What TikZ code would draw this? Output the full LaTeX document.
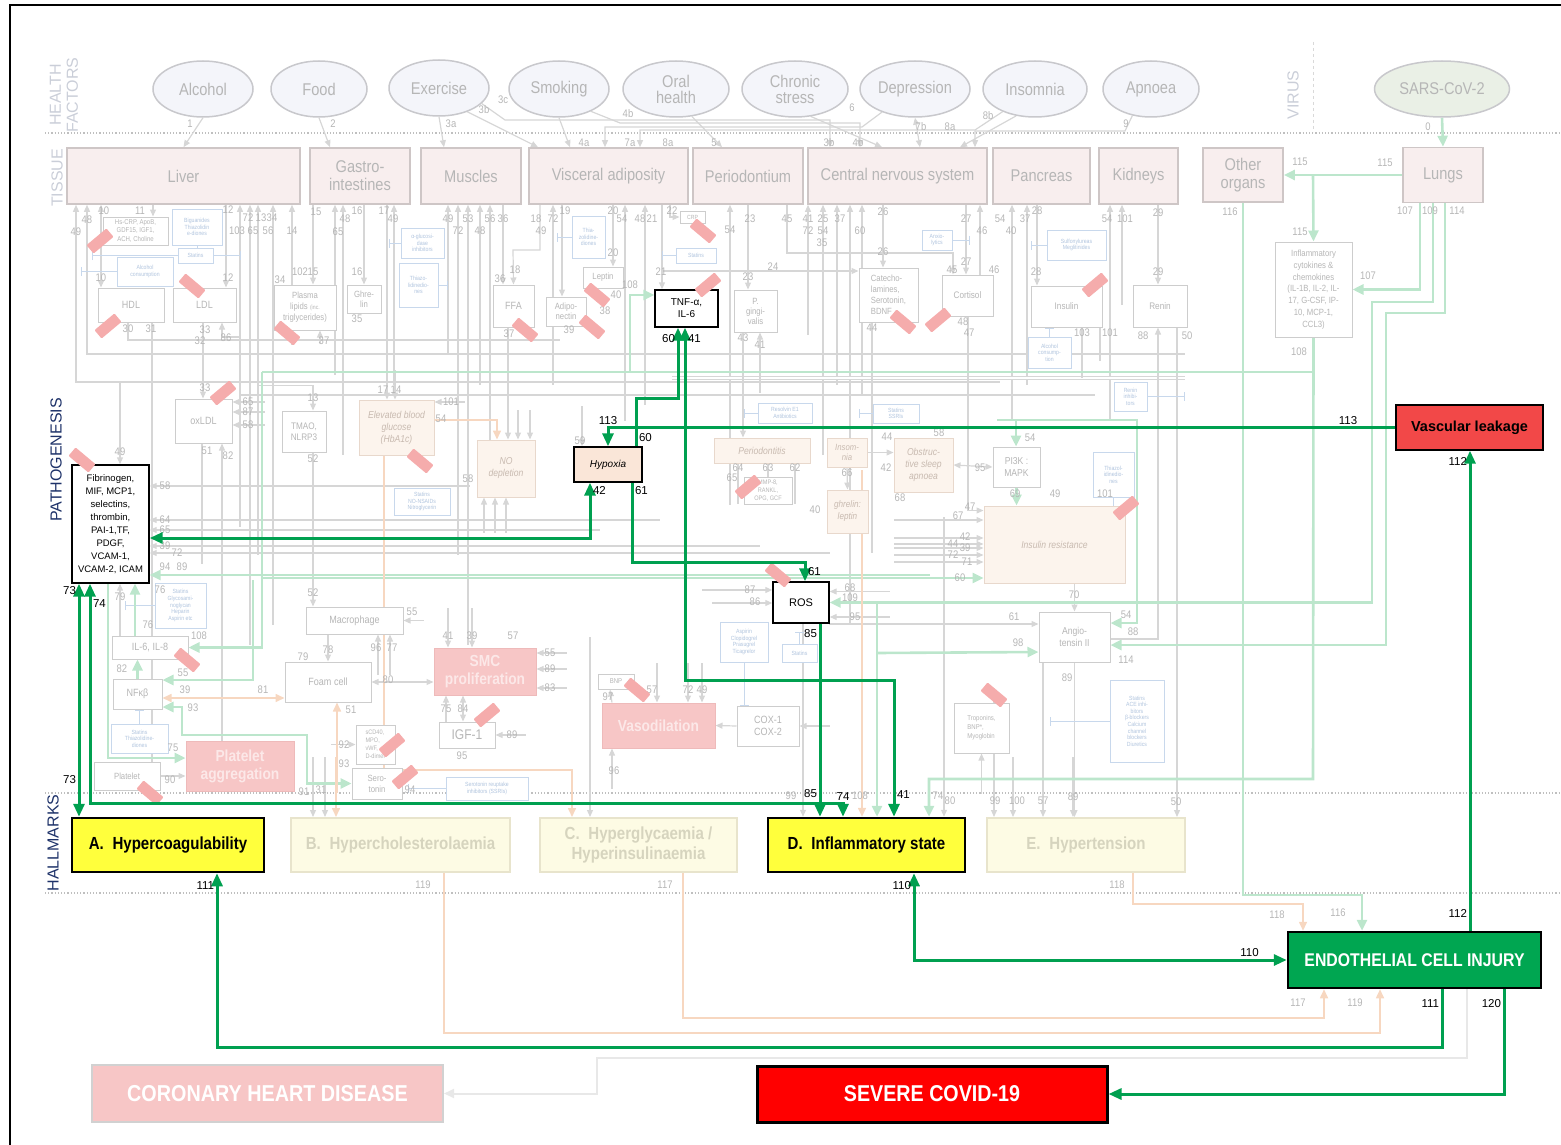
\documentclass[tikz,border=0pt]{standalone}
\usepackage{fontspec}
\setmainfont{Liberation Sans}
\newfontfamily\nar[FakeStretch=0.86]{Liberation Sans}
\usetikzlibrary{positioning,arrows.meta,shapes.geometric,backgrounds}
\newcommand\fsz[2]{\fontsize{#1}{#2}\selectfont}
\definecolor{fgray}{RGB}{214,214,214}
\definecolor{tgray}{RGB}{182,182,182}
\definecolor{gline}{RGB}{205,205,205}
\definecolor{fgreen}{RGB}{188,230,204}
\definecolor{forange}{RGB}{247,215,192}
\definecolor{fblue}{RGB}{200,216,236}
\definecolor{tblue}{RGB}{176,196,222}
\definecolor{tissfill}{RGB}{248,238,238}
\definecolor{tissline}{RGB}{206,198,198}
\definecolor{ellfill}{RGB}{244,245,250}
\definecolor{ellline}{RGB}{200,200,204}
\definecolor{sarsfill}{RGB}{234,240,230}
\definecolor{peachfill}{RGB}{252,244,237}
\definecolor{peachline}{RGB}{232,216,204}
\definecolor{peachtext}{RGB}{200,186,176}
\definecolor{rfill}{RGB}{247,198,198}
\definecolor{rline}{RGB}{238,186,186}
\definecolor{rtext}{RGB}{252,232,232}
\definecolor{hfill}{RGB}{253,251,228}
\definecolor{hline}{RGB}{232,228,204}
\definecolor{htext}{RGB}{214,212,190}
\definecolor{hyellow}{RGB}{255,255,60}
\definecolor{bgreen}{RGB}{0,160,80}
\definecolor{ecigreen}{RGB}{0,166,81}
\definecolor{leakred}{RGB}{242,72,72}
\definecolor{hypfill}{RGB}{250,230,216}
\definecolor{markred}{RGB}{245,172,172}
\definecolor{secnavy}{RGB}{30,50,105}
\definecolor{secgray}{RGB}{202,206,216}
\definecolor{vlgray}{RGB}{232,232,232}
\tikzset{
  wh/.style 2 args = {minimum width=#1pt, minimum height=#2pt},
  ell/.style    = {ellipse, draw=ellline, fill=ellfill, line width=1.5pt, text=tgray, align=center, inner sep=0pt, font=\nar\fsz{17}{16}},
  tiss/.style   = {draw=tissline, fill=tissfill, line width=1.6pt, text=tgray, align=center, inner sep=0pt, font=\nar\fsz{17}{18}},
  gbox/.style   = {draw=gline, fill=white, line width=1pt, text=tgray, align=center, inner sep=1pt, font=\nar\fsz{10.5}{11.5}},
  pbox/.style   = {gbox, draw=peachline, fill=peachfill, text=peachtext, font=\nar\itshape\fsz{10}{12}},
  rbox/.style   = {draw=rline, fill=rfill, text=rtext, line width=1pt, align=center, inner sep=0pt, font=\nar\bfseries\fsz{16}{18}},
  dbox/.style   = {draw=fblue, fill=white, text=tblue, line width=0.8pt, align=center, inner sep=0.5pt, font=\nar\fsz{6}{6.6}},
  kbox/.style   = {draw=black, fill=white, line width=1.4pt, align=center, inner sep=1pt, font=\fsz{10}{12}},
  hall/.style   = {draw=hline, fill=hfill, text=htext, line width=2pt, align=center, inner sep=0pt, font=\nar\bfseries\fsz{17.5}{20}},
  hallon/.style = {hall, draw=black, fill=hyellow, text=black, line width=2.5pt},
  batt/.style   = {fill=markred, minimum width=26pt, minimum height=11pt, inner sep=0pt, rounded corners=1pt},
  gpath/.style  = {draw=bgreen, line width=3pt, >={Triangle[length=13pt,width=11pt]}},
  fl/.style     = {draw=fgray, line width=1.2pt, >={Triangle[length=7pt,width=6pt]}},
  fg/.style     = {draw=fgreen, line width=2.6pt, >={Triangle[length=11pt,width=10pt]}},
  fo/.style     = {draw=forange, line width=1.6pt, >={Triangle[length=9pt,width=8pt]}},
  fb/.style     = {draw=fblue, line width=1pt, -{Bar[width=9pt]}},
  num/.style    = {font=\fsz{11.5}{12}, text=black, inner sep=1.5pt},
  fnum/.style   = {font=\nar\fsz{11}{12}, text=tgray, inner sep=0pt},
  seclab/.style = {rotate=90, align=center, font=\fsz{16}{17}, text=secgray},
}

\begin{document}
\begin{tikzpicture}[x=1pt,y=-1pt]
  \useasboundingbox (0,0) rectangle (1561,1145);

  % section labels
  \node[seclab] (shf) at (64,95) {HEALTH\\FACTORS};
  \node[seclab] (sti) at (57,178) {TISSUE};
  \node[seclab] (svi) at (1293,95) {VIRUS};
  \node[seclab, text=secnavy] (spa) at (56,460) {PATHOGENESIS};
  \node[seclab, text=secnavy] (sha) at (53,843) {HALLMARKS};

  % health factors and virus
  \node[ell, wh={100}{56}] (alc) at (203,89) {Alcohol};
  \node[ell, wh={96}{56}] (food) at (319,89) {Food};
  \node[ell, wh={100}{56}] (exer) at (439,88) {Exercise};
  \node[ell, wh={100}{56}] (smok) at (559,89) {Smoking};
  \node[ell, wh={106}{56}] (oral) at (676,89) {Oral\\health};
  \node[ell, wh={106}{56}] (chron) at (795,89) {Chronic\\stress};
  \node[ell, wh={110}{56}] (depr) at (915,89) {Depression};
  \node[ell, wh={104}{56}] (insom) at (1035,89) {Insomnia};
  \node[ell, wh={96}{56}] (apnoea) at (1151,89) {Apnoea};
  \node[ell, wh={135}{56}, fill=sarsfill] (sars) at (1442,89) {SARS-CoV-2};

  % tissue
  \node[tiss, wh={233}{56}] (liver) at (183.5,176) {Liver};
  \node[tiss, wh={100}{56}] (gastro) at (360,176) {Gastro-\\intestines};
  \node[tiss, wh={100}{56}] (muscles) at (471,176) {Muscles};
  \node[tiss, wh={159}{56}] (visc) at (608.5,176) {Visceral adiposity};
  \node[tiss, wh={110}{56}] (perio) at (748,176) {Periodontium};
  \node[tiss, wh={179}{56}] (cns) at (897.5,176) {Central nervous system};
  \node[tiss, wh={97}{56}] (pancreas) at (1041.5,176) {Pancreas};
  \node[tiss, wh={79}{56}] (kidneys) at (1138.5,176) {Kidneys};
  \node[tiss, wh={80}{54}] (other) at (1243,175) {Other\\organs};
  \node[tiss, wh={80}{55}] (lungs) at (1443,175) {Lungs};

  % pathogenesis, faded boxes
  \node[gbox, wh={65}{28}, font=\nar\fsz{7}{8.4}] (hscrp) at (135.5,231) {Hs-CRP, ApoB,\\GDF15, IGF1,\\ACH, Choline};
  \node[gbox, wh={66}{34}] (hdl) at (131,305) {HDL};
  \node[gbox, wh={63}{34}] (ldl) at (204.5,305) {LDL};
  \node[gbox, wh={62}{45}, font=\nar\fsz{9}{11}] (plip) at (305,307.5) {Plasma\\lipids {\fsz{6}{7}(inc.}\\triglycerides)};
  \node[gbox, wh={34}{28}, font=\nar\fsz{9}{10}] (ghrelin) at (364,299) {Ghre-\\lin};
  \node[gbox, wh={57}{44}] (oxldl) at (203.5,421) {oxLDL};
  \node[gbox, wh={44}{41}, font=\nar\fsz{9.5}{11}] (tmao) at (304,431.5) {TMAO,\\NLRP3};
  \node[gbox, wh={41}{42}] (ffa) at (513.5,306) {FFA};
  \node[gbox, wh={40}{21}, font=\nar\fsz{9}{10}] (leptin) at (603,277.5) {Leptin};
  \node[gbox, wh={40}{29}, font=\nar\fsz{9}{10}] (adipo) at (566,311.5) {Adipo-\\nectin};
  \node[gbox, wh={25}{12}, font=\nar\fsz{6}{6}] (crp) at (692.5,217) {CRP};
  \node[gbox, wh={43}{42}, font=\nar\fsz{9}{10}] (pging) at (755.5,311) {P.\\gingi-\\valis};
  \node[gbox, wh={59}{54}, font=\nar\fsz{9}{11}, align=left] (catech) at (888.5,295) {Catecho-\\lamines,\\Serotonin,\\BDNF};
  \node[gbox, wh={51}{41}, font=\nar\fsz{9.5}{10}] (cortisol) at (967.5,295.5) {Cortisol};
  \node[gbox, wh={71}{41}, font=\nar\fsz{9.5}{10}] (insulin) at (1066.5,306.5) {Insulin};
  \node[gbox, wh={54}{42}, font=\nar\fsz{9.5}{10}] (renin) at (1160,306) {Renin};
  \node[gbox, wh={77}{95}, font=\nar\fsz{9}{11.8}] (cyto) at (1313.5,289.5) {Inflammatory\\cytokines \&\\chemokines\\(IL-1B, IL-2, IL-\\17, G-CSF, IP-\\10, MCP-1,\\CCL3)};
  \node[gbox, wh={97}{27}] (macro) at (354.5,620.5) {Macrophage};
  \node[gbox, wh={76}{23}] (il68) at (150,647.5) {IL-6, IL-8};
  \node[gbox, wh={49}{30}] (nfkb) at (137.5,694) {NFκβ};
  \node[gbox, wh={86}{40}] (foam) at (328,682) {Foam cell};
  \node[gbox, wh={66}{28}, font=\nar\fsz{9}{10}] (platelet) at (127,776) {Platelet};
  \node[gbox, wh={39}{39}, font=\nar\fsz{6.5}{8}, align=left] (scd) at (375.5,744.5) {sCD40,\\MPO,\\vWF,\\D-dimer};
  \node[gbox, wh={50}{31}, font=\nar\fsz{9}{11}] (sero) at (377,783.5) {Sero-\\tonin};
  \node[gbox, wh={56}{26}, font=\nar\fsz{14}{14}] (igf) at (467,735) {IGF-1};
  \node[gbox, wh={48}{27}, font=\nar\fsz{6.5}{8}] (mmp) at (768,490.5) {MMP-8,\\RANKL,\\OPG, GCF};
  \node[gbox, wh={36}{15}, font=\nar\fsz{7}{7}] (bnp) at (616,681.5) {BNP};
  \node[gbox, wh={62}{40}] (cox) at (768,726) {COX-1\\COX-2};
  \node[gbox, wh={47}{40}, font=\nar\fsz{10}{11.5}] (pi3k) at (1016.5,467) {PI3K :\\MAPK};
  \node[gbox, wh={71}{50}, font=\nar\fsz{10}{11.5}] (angio) at (1074.5,637) {Angio-\\tensin II};
  \node[gbox, wh={55}{50}, font=\nar\fsz{7}{9}, align=left] (tropo) at (981.5,728) {Troponins,\\BNP*,\\Myoglobin};

  % pathogenesis, faded conditions
  \node[pbox, wh={75}{55}] (ebg) at (396.5,427.5) {Elevated blood\\glucose\\(HbA1c)};
  \node[pbox, wh={58}{57}] (nodep) at (506,468.5) {NO\\depletion};
  \node[pbox, wh={96}{25}] (perio2) at (762,450.5) {Periodontitis};
  \node[pbox, wh={40}{29}, font=\nar\itshape\fsz{9}{10}] (insom2) at (847,452.5) {Insom-\\nia};
  \node[pbox, wh={59}{54}] (osa) at (923.5,465) {Obstruc-\\tive sleep\\apnoea};
  \node[pbox, wh={41}{43}, font=\nar\itshape\fsz{9.5}{12}] (ghlep) at (847.5,511.5) {ghrelin:\\leptin};
  \node[pbox, wh={141}{77}] (insres) at (1054.5,544.5) {Insulin resistance};
  \node[rbox, wh={102}{47}] (smc) at (485,671.5) {SMC\\proliferation};
  \node[rbox, wh={108}{50}] (platagg) at (240,766) {Platelet\\aggregation};
  \node[rbox, wh={113}{45}] (vasod) at (658.5,725.5) {Vasodilation};

  % pathogenesis, faded drugs
  \node[dbox, wh={50}{36}] (bigu) at (197,227) {Biguanides\\Thiazolidin\\e-diones};
  \node[dbox, wh={35}{15}] (statin1) at (195.5,255.5) {Statins};
  \node[dbox, wh={56}{29}] (alcc1) at (145,271.5) {Alcohol\\consumption};
  \node[dbox, wh={43}{30}] (agluc) at (422.5,243) {α-glucosi-\\dase\\inhibitors};
  \node[dbox, wh={39}{44}] (thia1) at (418.5,285) {Thiazo-\\lidinedio-\\nes};
  \node[dbox, wh={33}{42}] (thia2) at (588.5,237) {Thia-\\zolidine-\\diones};
  \node[dbox, wh={40}{15}] (statin2) at (696,255.5) {Statins};
  \node[dbox, wh={30}{20}] (anxio) at (937,240) {Anxio-\\lytics};
  \node[dbox, wh={59}{30}] (sulfo) at (1076.5,245) {Sulfonylureas\\Meglitinides};
  \node[dbox, wh={43}{31}] (alcc2) at (1049.5,352.5) {Alcohol\\consump-\\tion};
  \node[dbox, wh={33}{29}] (renininh) at (1130.5,396.5) {Renin\\inhibi-\\tors};
  \node[dbox, wh={54}{20}] (resolvin) at (785,413) {Resolvin E1\\Antibiotics};
  \node[dbox, wh={46}{19}] (statssri) at (896,413.5) {Statins\\SSRIs};
  \node[dbox, wh={56}{27}] (statnsaid) at (422,501.5) {Statins\\NO-NSAIDs\\Nitroglycerin};
  \node[dbox, wh={41}{45}] (thia3) at (1113.5,474.5) {Thiazol-\\idinedio-\\nes};
  \node[dbox, wh={51}{45}] (statgly) at (180.5,605.5) {Statins\\Glycosami-\\noglycan\\Heparin\\Aspirin etc};
  \node[dbox, wh={57}{29}] (stathia) at (139.5,738.5) {Statins\\Thiazolidine-\\diones};
  \node[dbox, wh={48}{40}] (aspirin) at (744,642) {Aspirin\\Clopidogrel\\Prasugrel\\Ticagrelor};
  \node[dbox, wh={35}{18}] (statin3) at (799.5,653) {Statins};
  \node[dbox, wh={82}{23}] (seroreup) at (487,788.5) {Serotonin reuptake\\inhibitors (SSRIs)};
  \node[dbox, wh={54}{82}] (statace) at (1137,721) {Statins\\ACE inhi-\\bitors\\β-blockers\\Calcium\\channel\\blockers\\Diuretics};

  % pathogenesis, highlighted
  \node[kbox, wh={63}{37}] (tnf) at (686.5,308.5) {TNF-α,\\IL-6};
  \node[kbox, wh={77}{118}, font=\fsz{9.5}{13}] (fib) at (110.5,524) {Fibrinogen,\\MIF, MCP1,\\selectins,\\thrombin,\\PAI-1,TF,\\PDGF,\\VCAM-1,\\VCAM-2, ICAM};
  \node[kbox, wh={68}{35}, fill=hypfill, font=\itshape\fsz{10}{12}] (hyp) at (608,464.5) {Hypoxia};
  \node[kbox, wh={56}{41}, font=\fsz{11}{12}] (ros) at (801,602.5) {ROS};
  \node[kbox, wh={147}{45}, fill=leakred, font=\bfseries\fsz{14.5}{16}] (vleak) at (1469.5,427.5) {Vascular leakage};

  % hallmarks and outcomes
  \node[hallon, wh={192}{54}] (hA) at (168,845) {A.\enspace Hypercoagulability};
  \node[hall, wh={219}{54}] (hB) at (400.5,845) {B.\enspace Hypercholesterolaemia};
  \node[hall, wh={197}{54}] (hC) at (638.5,845) {C.\enspace Hyperglycaemia /\\Hyperinsulinaemia};
  \node[hallon, wh={197}{54}] (hD) at (866.5,845) {D.\enspace Inflammatory state};
  \node[hall, wh={198}{54}] (hE) at (1086,845) {E.\enspace Hypertension};
  \node[draw=black, line width=2.5pt, fill=ecigreen, text=white, wh={253}{56}, font=\nar\bfseries\fsz{18.4}{20}] (eci) at (1414.5,960) {ENDOTHELIAL CELL INJURY};
  \node[draw=black, line width=3pt, fill=red, text=white, wh={350}{56}, font=\nar\bfseries\fsz{22.9}{24}] (severe) at (932,1094) {SEVERE COVID-19};
  \node[draw=black!18, line width=2pt, fill=rfill, text=white, wh={351}{57}, font=\nar\bfseries\fsz{23}{25}] (chd) at (267.5,1093.5) {CORONARY HEART DISEASE};

  \begin{scope}[on background layer]
    % frame and separators
    \draw[line width=2.5pt] (10,1145) -- (10,5) -- (1561,5);
    \draw[dotted, draw=black!25, line width=1.2pt] (45,133) -- (1561,133);
    \draw[dotted, draw=black!25, line width=1.2pt] (45,793) -- (1561,793);
    \draw[dotted, draw=black!25, line width=1.2pt] (45,893) -- (1561,893);
    \draw[dashed, draw=black!15, line width=1pt] (1313,42) -- (1313,132);

    % health factors to tissue
    \coordinate (b3b) at (505,120);
    \coordinate (b4b) at (620,123);
    \coordinate (b7a) at (862,127);
    \coordinate (b8a) at (975,130);
    \coordinate (b9) at (1125,131);
    \draw[fl,->] (alc.south) -- (liver.north);
    \draw[fl,->] (food.south) -- ([xshift=-30pt]gastro.north);
    \draw[fl,->] (exer.south) -- ([xshift=-27pt]muscles.north);
    \draw[fl,->] (exer.-40) -- ([xshift=-70.5pt]visc.north);
    \draw[fl,->] (exer.-20) -- (b3b) -| ([xshift=-67.5pt]cns.north);
    \draw[fl,->] (smok.south) -- ([xshift=-38.5pt]visc.north);
    \draw[fl,->] (smok.-35) -- (b4b) -| ([xshift=-37.5pt]cns.north);
    \draw[fl,->] (oral.-60) -- ([xshift=-26pt]perio.north);
    \draw[fl,->] (chron.-60) -- ([xshift=-15.5pt]cns.north);
    \draw[fl,->] (depr.215) -- (b7a) -| ([xshift=-3.5pt]visc.north);
    \draw[fl,<->] (depr.south) -- ([xshift=22.5pt]cns.north);
    \draw[fl,->] (insom.215) -- (b8a) -| ([xshift=31.5pt]visc.north);
    \draw[fl,->] (insom.235) -- ([xshift=62.5pt]cns.north);
    \draw[fl,->] (apnoea.235) -- (b9) -| ([xshift=77.5pt]cns.north);

    % tissue to pathogenesis
    \foreach \n/\d/\l in {liver/-107.5/178, liver/-96.5/150, liver/56.5/173, liver/66.5/440, liver/74.5/350,
      liver/89.5/420, liver/108.5/140, gastro/-25/170, gastro/-17/250, gastro/34/180, muscles/-23/150,
      muscles/-13/350, muscles/-3/440, muscles/9/180, muscles/19/260, visc/-55.5/180, visc/16.5/216,
      visc/36.5/200, perio/-18/300, cns/-89.5/130, cns/-74.5/250, cns/-60.5/180, cns/-47.5/420,
      cns/-35.5/190, pancreas/-29.5/216, pancreas/-14.5/180, kidneys/-28.5/216, kidneys/-16.5/100}
      \draw[fl,<-] ([xshift=\d pt]\n.south) -- ++(0,\l);
    \coordinate (c18) at (513,250);
    \coordinate (c45) at (953,253);
    \coordinate (c24) at (662,271);
    \draw[fl,<->] ([xshift=-82.5pt]liver.south) -- ([xshift=-30pt]hdl.north);
    \draw[fl,->] ([xshift=-30.5pt]liver.south) -- ([xshift=17.5pt]hscrp.north);
    \draw[fl,->] ([xshift=42.5pt]liver.south) -- ([xshift=21.5pt]ldl.north);
    \draw[fl,->] ([xshift=-47pt]gastro.south) -- ([xshift=8pt]plip.north);
    \draw[fl,->] ([xshift=4pt]gastro.south) -- (ghrelin.north);
    \draw[fl,->] ([xshift=27pt]gastro.south) -- ([xshift=-9.5pt]ebg.north);
    \draw[fl,->] ([xshift=32pt]muscles.south) -- ([xshift=-10.5pt]ffa.north);
    \draw[fl,->] ([xshift=-68.5pt]visc.south) |- (c18) -- (ffa.north);
    \draw[fl,->] ([xshift=-46.5pt]visc.south) -- ([xshift=-4pt]adipo.north);
    \draw[fl,->] ([xshift=4.5pt]visc.south) -- ([xshift=10pt]leptin.north);
    \draw[fl,->] ([xshift=53.5pt]visc.south) -- ([xshift=-24.5pt]tnf.north);
    \draw[fl,->] ([xshift=61.5pt]visc.south) |- (crp.west);
    \draw[fl,->] (perio.south) -- ([xshift=-7.5pt]pging.north);
    \draw[fl,->] ([xshift=-110.5pt]cns.south) |- (c45) -- ([xshift=-14.5pt]cortisol.north);
    \draw[fl,->] ([xshift=-14.5pt]cns.south) -- ([xshift=-5.5pt]catech.north);
    \draw[fl,->] ([xshift=68.5pt]cns.south) -- ([xshift=-1.5pt]cortisol.north);
    \draw[fl,<-] ([xshift=82.5pt]cns.south) -- ([xshift=12.5pt]cortisol.north);
    \draw[fl,->] ([xshift=-4.5pt]pancreas.south) -- ([xshift=-29.5pt]insulin.north);
    \draw[fl,->] ([xshift=19.5pt]kidneys.south) -- ([xshift=-2pt]renin.north);
    \draw[fl,->] (c24) -- ([yshift=24pt]catech.west);

    % buses
    \coordinate (b30) at (560,340);
    \coordinate (b354l) at (87,354);
    \coordinate (b354r) at (1185,354);
    \coordinate (b378l) at (672,378);
    \coordinate (b378r) at (1185,378);
    \coordinate (b382l) at (76,382);
    \coordinate (b382r) at (1000,382);
    \coordinate (b395l) at (240,395);
    \coordinate (b395r) at (1095,395);
    \coordinate (c86) at (240,337);
    \draw[fl] (b354l) -- (b354r);
    \draw[fl, double=white, double distance=1.6pt] (b378l) -- (b378r);
    \draw[fl] (b382l) -- (b382r);
    \draw[fl] (b395l) -- (b395r);
    \draw[fl] ([xshift=-3pt]hdl.south) |- (b30);
    \draw[fl] ([xshift=21pt]hdl.south) -- ++(0,470);
    \draw[fl,->] ([xshift=-1.5pt]ldl.south) -- ([xshift=-0.5pt]oxldl.north);
    \draw[fl,->] (c86) -| ([xshift=17.5pt]ldl.south);
    \draw[fl] (c86) -- ++(0,190);
    \draw[fl,<-] ([xshift=15pt]plip.south) -- ++(0,12);

    % inside pathogenesis
    \draw[fl,->] ([xshift=-5.5pt]ffa.south) -- ([xshift=2pt]nodep.north);
    \draw[fl,->] ([xshift=9pt]tmao.south) -- ([xshift=-41.5pt]macro.north);
    \draw[fl,<-] ([xshift=9pt]tmao.north) -- ++(0,-25) -- ++(-55,0);
    \draw[fl] ([xshift=-16.5pt]catech.south) -- ++(0,230);
    \draw[fl,->] ([xshift=0.5pt]cortisol.south) |- ([yshift=34pt]insres.west);
    \draw[fl] ([xshift=15.5pt]insulin.south) -- ++(0,50);
    \draw[fl] ([xshift=33.5pt]insulin.south) -- ++(0,33);
    \draw[fl,->] ([xshift=17pt]renin.south) -- ([xshift=91pt]hE.north);
    \draw[fl,->] ([yshift=-2pt]angio.east) -| ([xshift=-2pt]renin.south);
    \draw[fl,->] ([xshift=20pt]insres.south) -- (angio.north);
    \draw[fl,->] (angio.south) -- ([xshift=-11.5pt]hE.north);
    \draw[fl,->] ([xshift=-26.5pt]macro.south) -- (foam.north);
    \draw[fl,<->] (foam.east) -- (smc.west |- foam.east);
    \draw[fl,->] ([xshift=-21pt]igf.north) -- ([xshift=-39pt]smc.south);
    \draw[fl,<->] ([xshift=-4pt]igf.north) -- ([xshift=-22pt]smc.south);
    \draw[fl,->] (cox.west) -- (vasod.east);
    \draw[fl,<-] (cox.east) -- ++(30,0);
    \draw[fl,->] (platelet.east) -- (platagg.west |- platelet.east);
    \draw[fl,<->] (osa.east) -- (pi3k.west);
    \draw[fl,->] (insom2.east) -- (osa.west |- insom2.east);
    \draw[fl,->] (insom2.south) -- (ghlep.north);
    \draw[fl,->] ([xshift=-12.5pt]pging.south) -- ([xshift=-19pt]perio2.north);
    \draw[fl,<-] ([xshift=4.5pt]pging.south) -- ++(0,60);
    \foreach \d in {-24,6,33} \draw[fl] ([xshift=\d pt]perio2.south) -- ++(0,40);
    \draw[fl,<-] ([yshift=12.5pt]ros.west) -- ++(-70,0);
    \draw[fl,<-] ([yshift=-0.5pt]ros.west) -- ++(-60,0);
    \draw[fl,<-] ([yshift=11pt]ros.east) -- ++(60,0);
    \draw[fl,<-] ([yshift=-14.5pt]ros.east) -- ++(60,0);
    \draw[fl,<-] ([yshift=13pt]angio.west) -- ++(-210,0);
    \foreach \s in {24.5,6.5,0.5,-3.5,-10.5,-17.5} \draw[fl,<-] ([yshift=\s pt]insres.west) -- ++(-90,0);
    \foreach \s/\l in {38/320, 4/510, -6/450, -22/610, -29/680} \draw[fl,<-] ([yshift=\s pt]fib.east) -- ++(\l,0);
    \foreach \s in {19,9,-4} \draw[fl,<-] ([yshift=\s pt]oxldl.east) -- ++(32,0);
    \draw[fl] ([xshift=-1.5pt]oxldl.south) -- ++(0,120);
    \draw[fl,<-] ([xshift=18.5pt]oxldl.south) -- ++(0,300);
    \foreach \s in {18.5,2.5,-16.5} \draw[fl,<-] ([yshift=\s pt]smc.east) -- ++(30,0);
    \foreach \d in {-37,-13} \draw[fl,<-] ([xshift=\d pt]smc.north) -- ++(0,-40);
    \draw[fl,<-] (macro.east) -- ++(20,0);
    \foreach \d in {23.5,35.5} \draw[fl,<-] ([xshift=\d pt]macro.south) -- ++(0,40);
    \draw[fl,<-] (igf.east) -- ++(30,0);
    \foreach \d in {-1.5,29.5,43.5} \draw[fl,<-] ([xshift=\d pt]vasod.north) -- ++(0,-40);
    \draw[fl,<-] ([xshift=-46.5pt]vasod.south) -- ++(0,40);
    \draw[fl,->] ([xshift=-46.5pt]vasod.north) -- ([xshift=-6pt]bnp.south);
    \draw[fl,<-] (tropo.south) -- ++(0,40);
    \draw[fl,<-] (scd.west) -- ++(-25,0);
    \draw[fl,->] ([xshift=-30pt]il68.north) -- ([xshift=9.5pt]fib.south);
    \draw[fl,<-] ([xshift=-1.5pt]ebg.north) -- ++(0,-30);
    \draw[fl,<-] ([yshift=25.5pt]ebg.east) -- ++(30,0);
    \foreach \d in {-22,-11,0} \draw[fl,<-] ([xshift=\d pt]nodep.south) -- ++(0,35);
    \foreach \d in {12,24} \draw[fl,<-] ([xshift=\d pt]nodep.north) -- ++(0,-30);
    \draw[fl,<-] ([xshift=-26pt]hyp.north) -- ++(0,-40);
    \draw[fl,<-] ([xshift=9.5pt]fib.north) -- ++(0,-83);
    \foreach \n/\d/\l in {hB/-87.5/60, hB/-75.5/60, hC/-48.5/180, hD/-63.5/200, hD/77.5/300,
      hE/-92/120, hE/-73/60, hE/-43/200, hE/-13/60}
      \draw[fl,<-] ([xshift=\d pt]\n.north) -- ++(0,-\l);

    % drugs
    \draw[fb] (statin1.west) -- ++(-86,0);
    \draw[fb] (alcc1.west) -- ++(-36,0);
    \draw[fb] (bigu.south) -- ++(0,12);
    \draw[fb] (statin1.east) -- ++(28,0);
    \draw[fb] (agluc.west) -- ++(-12,0);
    \draw[fb] (thia1.east) -- ++(10,0);
    \draw[fb] (thia2.west) -- ++(-15,0);
    \draw[fb] (statin2.west) -- ++(-14,0);
    \draw[fb] (anxio.east) -- ++(18,0);
    \draw[fb] (sulfo.west) -- ++(-16,0);
    \draw[fb] (alcc2.north) -- ([xshift=-17pt]insulin.south);
    \draw[fb] (renininh.east) -- ++(38,0);
    \draw[fb] (resolvin.west) -- ++(-14,0);
    \draw[fb] (statssri.west) -- ++(-14,0);
    \draw[fb] (thia3.south) -- ++(0,12);
    \draw[fb] (statgly.west) -- ++(-30,0);
    \draw[fb] (stathia.north) -- ++(0,-14);
    \draw[fb] (aspirin.south) -- ([xshift=-24pt]cox.north);
    \draw[fb] (statin3.north) -- ++(0,-12);
    \draw[fb] (seroreup.west) -- ++(-38,0);
    \draw[fb] (statace.west) -- ++(-60,0);

    % faded green (COVID-19 in other organs)
    \coordinate (j115) at (1313,175);
    \coordinate (c109) at (1372,302);
    \coordinate (c109b) at (877,603);
    \coordinate (c114) at (1386,313);
    \coordinate (c116) at (1362,895);
    \coordinate (c108) at (1313,779);
    \coordinate (g372r) at (1313,372);
    \coordinate (g372l) at (262,372);
    \coordinate (c630) at (630,372);
    \coordinate (c94) at (930,575);
    \coordinate (c253) at (253,580);
    \coordinate (c54a) at (997,420);
    \coordinate (c54b) at (1137,420);
    \coordinate (c98) at (877,653);
    \coordinate (c93a) at (307,735);
    \coordinate (c93b) at (182,735);
    \draw[fg,->] (sars.south) -- (lungs.north);
    \draw[fg,->] (lungs.west) -- (other.east);
    \draw[fg,->] (j115) -- (cyto.north);
    \draw[fg,->] ([xshift=-23pt]lungs.south) |- (cyto.east);
    \draw[fg,->] ([xshift=-10pt]lungs.south) |- (c109) |- (ros.east);
    \draw[fg,->] (c109b) -- ([xshift=10.5pt]hD.north);
    \draw[fg,->] ([xshift=2pt]lungs.south) |- (c114) |- ([yshift=-8pt]angio.east);
    \draw[fg,->] (other.south) |- (c116) -- ([xshift=-52.5pt]eci.north);
    \draw[fg,->] (cyto.south) -- (c108) -| ([xshift=62.5pt]hD.north);
    \draw[fg] (g372r) -- (g372l);
    \draw[fg,->] (c630) |- ([yshift=13.5pt]tnf.west);
    \draw[fg,->] (g372l) |- ([yshift=-33.5pt]insres.west);
    \draw[fg,->] (g372l) |- (il68.east);
    \draw[fg,->] (c94) -- ([yshift=-51pt]fib.east);
    \draw[fg,->] (c253) |- ([yshift=14pt]nfkb.east);
    \draw[fg,<->] (sero.west) -| (c93a) -- (c93b) |- ([yshift=-13pt]nfkb.east);
    \draw[fg,->] ([xshift=-2.5pt]fib.south) |- ([yshift=8pt]platagg.west);
    \draw[fg,->] ([xshift=-15pt]il68.north) -- ([xshift=24.5pt]fib.south);
    \draw[fg,->] (nfkb.north) -- ([xshift=-12.5pt]il68.south);
    \draw[fg,->] (c54a) -| ([xshift=-0.5pt]pi3k.north);
    \draw[fg,->] (c54a) -- (c54b) |- ([yshift=14pt]angio.east);
    \draw[fg,->] (pi3k.south) -- ([xshift=-38pt]insres.north);
    \draw[fg,->] (c98) -- ([yshift=-15pt]angio.west);

    % faded orange
    \coordinate (c119) at (1380,1033);
    \coordinate (c117) at (1324,1018);
    \coordinate (c118) at (1303,904);
    \coordinate (c95) at (384,770);
    \coordinate (c51) at (337,793);
    \coordinate (c862) at (862,470);
    \draw[fo,->] ([xshift=43.5pt]hB.south) |- (c119) -- ([xshift=-34.5pt]eci.south);
    \draw[fo,->] ([xshift=44.5pt]hC.south) |- (c117) -- ([xshift=-90.5pt]eci.south);
    \draw[fo,->] ([xshift=47pt]hE.south) |- (c118) -- ([xshift=-111.5pt]eci.north);
    \draw[fo,->] ([yshift=7.5pt]ebg.east) -| ([xshift=-9pt]nodep.north);
    \draw[fo,<->] ([yshift=-4pt]nfkb.east) -- ([yshift=-16pt]foam.west);
    \draw[fo,->] (c51) -- ([xshift=9pt]foam.south);
    \draw[fo,->] ([xshift=-12.5pt]ebg.south) |- (c95) -| ([xshift=-66.5pt]hC.north);
    \draw[fo,->] (c862) -- ([xshift=-4.5pt]hD.north);
    \draw[fo,<-] ([xshift=-64.5pt]hB.north) -- ++(0,-60);

    % towards coronary heart disease
    \coordinate (cch) at (597,1058);
    \draw[draw=vlgray, line width=2pt, -{Triangle[length=10pt,width=9pt]}] ([xshift=52.5pt]eci.south) |- (cch) |- (chd.east);
  \end{scope}

  % faded numbers
  \foreach \x/\y/\t in {190/124/1, 333/124/2, 451/124/3a, 484/110/3b, 503/100/3c, 584/143/4a, 628/114/4b,
    630/143/7a, 668/143/8a, 714/143/5, 852/108/6, 829/143/3b, 858/143/4b, 921/127/7b, 950/127/8a, 988/116/8b,
    1126/124/9, 1428/127/0, 1385/163/115, 1300/162/115, 1300/232/115,
    76/232/49, 87/220/48, 104/211/10, 140/211/11, 228/210/12, 248/218/72, 261/218/13, 272/218/34, 237/231/103,
    253/231/65, 268/231/56, 292/231/14, 316/212/15, 345/219/48, 357/211/16, 384/211/17, 393/219/49, 338/232/65,
    448/219/49, 458/231/72, 468/219/53, 480/231/48, 490/219/56, 503/219/36, 536/219/18, 553/219/72, 565/211/19,
    541/231/49, 613/211/20, 622/219/54, 640/219/48, 652/219/21, 672/211/22, 730/230/54, 750/219/23, 787/219/45,
    808/219/41, 823/219/25, 840/219/37, 808/231/72, 823/231/54, 860/231/60, 822/243/35, 883/212/26, 966/219/27,
    982/231/46, 1000/219/54, 1011/231/40, 1025/219/37, 1037/211/28, 1107/219/54, 1125/219/101, 1158/213/29,
    1230/212/116, 1405/211/107, 1430/211/109, 1457/211/114,
    101/278/10, 228/278/12, 280/280/34, 300/272/102, 313/272/15, 357/272/16, 128/329/30, 151/329/31, 205/330/33,
    200/341/32, 226/338/86, 324/341/37, 357/319/35, 515/270/18, 500/279/36, 509/334/37, 613/253/20, 616/295/40,
    605/311/38, 569/330/39, 630/285/108, 661/272/21, 773/267/24, 748/277/23, 743/338/43, 760/345/41, 883/252/26,
    952/270/45, 966/262/27, 994/270/46, 872/328/44, 963/322/48, 969/333/47, 1036/272/28, 1158/272/29,
    1082/333/103, 1110/333/101, 1143/336/88, 1187/336/50, 1368/276/107, 1299/352/108,
    205/388/33, 248/402/65, 248/412/87, 248/425/58, 207/451/51, 228/456/82, 313/398/13, 313/459/52, 383/390/17,
    396/390/14, 451/402/101, 441/419/54, 120/452/49, 165/486/58, 165/520/64, 165/530/65, 165/546/39, 177/553/72,
    165/567/94, 182/567/89, 580/441/59, 468/479/58, 738/468/64, 768/468/63, 795/468/62, 732/478/65, 847/473/66,
    886/468/42, 887/437/44, 939/433/58, 1030/438/54, 980/468/95, 900/498/68, 815/510/40, 958/516/67, 970/507/47,
    965/537/42, 953/544/44, 965/548/39, 953/555/72, 967/562/71, 960/578/60, 1015/494/69, 1055/494/49,
    1105/494/101, 750/590/87, 755/602/86, 850/588/68, 850/598/109, 855/617/95, 1074/595/70, 1126/615/54,
    1133/632/88, 1126/660/114, 1014/617/61, 1018/643/98, 1067/678/89, 313/593/52, 412/612/55, 120/597/79,
    160/590/76, 148/625/76, 199/636/108, 122/669/82, 183/673/55, 185/690/39, 193/708/93, 263/690/81,
    328/650/78, 303/657/79, 376/648/96, 392/648/77, 388/680/80, 351/710/51, 448/636/41, 472/636/39, 513/636/57,
    550/653/55, 550/669/89, 550/688/83, 446/709/75, 463/709/84, 462/756/95, 512/735/89, 344/745/92, 344/764/93,
    170/780/90, 304/792/91, 321/790/31, 410/790/94, 173/748/75, 608/697/97, 652/690/57, 688/690/72, 702/690/49,
    614/771/96, 791/796/99, 860/796/108, 938/796/74, 950/801/80, 995/801/99, 1017/801/100, 1043/801/57,
    1073/797/89, 1176/802/50, 1338/913/116, 1277/915/118, 1117/885/118, 665/885/117, 423/885/119,
    1298/1003/117, 1355/1003/119}
    \node[fnum] (f\x-\y) at (\x,\y) {\t};

  % biomarker tags
  \foreach \x/\y/\a [count=\i] in {100/241/40, 192/286/-40, 108/326/40, 287/333/-40, 223/393/40, 420/461/-40,
    703/231/-40, 525/330/-40, 597/295/-40, 592/327/-40, 708/285/40, 903/322/-40, 938/320/40, 1095/285/40,
    1126/508/40, 994/695/-40, 187/660/-40, 392/745/40, 405/777/40, 150/793/-40, 487/715/40, 748/487/40,
    637/690/-40, 778/575/-40, 82/460/-40}
    \node[batt, rotate=\a] (bt\i) at (\x,\y) {};

  % highlighted pathways
  \coordinate (c60) at (678,398);
  \coordinate (c41) at (685,680);
  \coordinate (c61) at (805,562);
  \coordinate (c74) at (843,803);
  \coordinate (c111) at (1442,1047);
  \draw[gpath,->] (vleak.west) -| node[num, pos=0.03, above] (l113a) {113} node[num, pos=0.5, above] (l113b) {113} (hyp.north);
  \draw[gpath,->] ([xshift=28pt]hyp.north) |- node[num, pos=0.09, right] (l60a) {60} (c60) -- node[num, pos=0.85, left] (l60b) {60} ([xshift=-8.5pt]tnf.south);
  \draw[gpath,<->] ([xshift=-1.5pt]tnf.south) -- node[num, pos=0.03, right] (l41a) {41} (c41) -| node[num, pos=0.92, right] (l41b) {41} ([xshift=27.5pt]hD.north);
  \draw[gpath,->] ([xshift=24pt]hyp.south) |- node[num, pos=0.05, right] (l61a) {61} (c61) -- node[num, pos=0.5, right] (l61b) {61} ([xshift=4pt]ros.north);
  \draw[gpath,<->] ([yshift=-14pt]fib.east) -| node[num, pos=0.93, right] (l42) {42} ([xshift=-18pt]hyp.south);
  \draw[gpath,->] ([xshift=19pt]ros.south) -- node[num, pos=0.05, left] (l85a) {85} node[num, pos=0.88, left] (l85b) {85} ([xshift=-46.5pt]hD.north);
  \draw[gpath,<->] ([xshift=-31.5pt]fib.south) -- node[num, pos=0.03, left] (l73a) {73} node[num, pos=0.84, left] (l73b) {73} ([xshift=-89pt]hA.north);
  \draw[gpath,<->] ([xshift=-20.5pt]fib.south) |- node[num, pos=0.045, right] (l74a) {74} (c74) -- node[num, pos=0, above] (l74b) {74} ([xshift=-23.5pt]hD.north);
  \draw[gpath,<->] ([xshift=47.5pt]hD.south) |- node[num, pos=0.07, left] (l110a) {110} node[num, pos=0.95, above] (l110b) {110} (eci.west);
  \draw[gpath,->] ([xshift=27.5pt]eci.south) -- node[num, pos=0.25, left] (l111a) {111} (c111) -| node[num, pos=0.965, left] (l111b) {111} ([xshift=49pt]hA.south);
  \draw[gpath,->] ([xshift=55.5pt]eci.north) -- node[num, pos=0.035, left] (l112a) {112} node[num, pos=0.977, left] (l112b) {112} ([xshift=0.5pt]vleak.south);
  \draw[gpath,->] ([xshift=89.5pt]eci.south) |- node[num, pos=0.07, left] (l120) {120} (severe.east);
\end{tikzpicture}
\end{document}
